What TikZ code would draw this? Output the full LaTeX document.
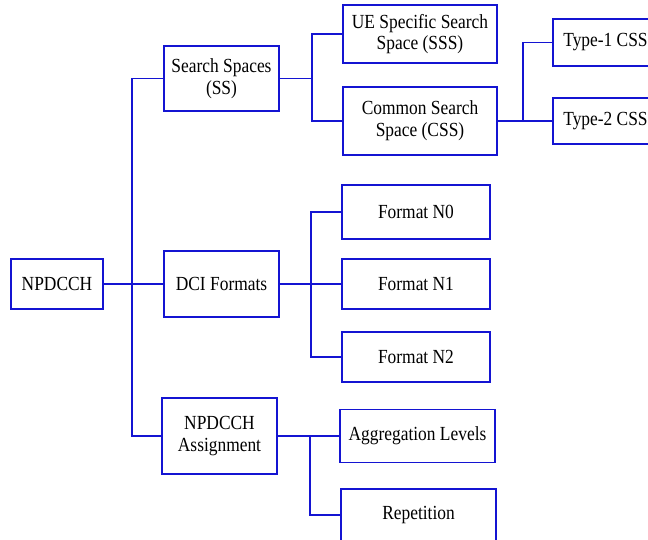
\documentclass[tikz,border=0pt]{standalone}
\usepackage{fontspec}
\setmainfont{Liberation Serif}[FakeStretch=0.87]
\definecolor{boxblue}{RGB}{20,20,210}
\tikzset{
    treebox/.style={draw=boxblue, line width=1.6pt, align=center, inner sep=2pt,
        font=\fontsize{20}{21.7}\selectfont},
    link/.style={draw=boxblue, line width=1.6pt}
}
\begin{document}
\begin{tikzpicture}[x=1pt, y=-1pt]
        \useasboundingbox (0, 0) rectangle (648, 540);
        \clip (0, 0) rectangle (648, 540);

        \node[treebox, minimum width=92pt, minimum height=50pt] (root) at (57, 284){NPDCCH};

        \node[treebox, minimum width=115pt, minimum height=65pt] (ss) at (221.5, 78.5){Search Spaces\\(SS)};
        \node[treebox, minimum width=115pt, minimum height=66pt] (dci) at (221.5, 284){DCI Formats};
        \node[treebox, minimum width=115pt, minimum height=76pt] (asg) at (219.5, 436){NPDCCH\\Assignment};

        \node[treebox, minimum width=154pt, minimum height=58pt] (sss) at (420, 34){UE Specific Search\\Space (SSS)};
        \node[treebox, minimum width=154pt, minimum height=68pt] (css) at (420, 121){Common Search\\Space (CSS)};
        \node[treebox, minimum width=105pt, minimum height=47pt] (type1) at (605.5, 42.5){Type-1 CSS};
        \node[treebox, minimum width=105pt, minimum height=46pt] (type2) at (605.5, 121){Type-2 CSS};

        \node[treebox, minimum width=148pt, minimum height=54pt] (n0) at (416, 212){Format N0};
        \node[treebox, minimum width=148pt, minimum height=50pt] (n1) at (416, 284){Format N1};
        \node[treebox, minimum width=148pt, minimum height=50pt] (n2) at (416, 357){Format N2};

        \node[treebox, minimum width=155pt, minimum height=53pt] (agg) at (417.5, 436){Aggregation Levels};
        \node[treebox, minimum width=155pt, minimum height=52pt] (rep) at (418.5, 515){Repetition};

        \coordinate (rootj) at (132, 284);
        \coordinate (ssj) at (312, 78.5);
        \coordinate (cssj) at (523, 121);
        \coordinate (dcij) at (311, 284);
        \coordinate (asgj) at (310, 436);

        \draw[link](root) to (dci);
        \draw[link](ss.west) -| (rootj) |- (asg.west);

        \draw[link](ss) to (ssj);
            \draw[link](sss.west) -| (ssj) |- (css.west);
        \draw[link](css) to (type2);
            \draw[link](type1.west) -| (cssj);

        \draw[link](dci) to (n1);
            \draw[link](n0.west) -| (dcij) |- (n2.west);

        \draw[link](asg) to (agg);
            \draw[link](asgj) |- (rep.west);
    \end{tikzpicture}
\end{document}
